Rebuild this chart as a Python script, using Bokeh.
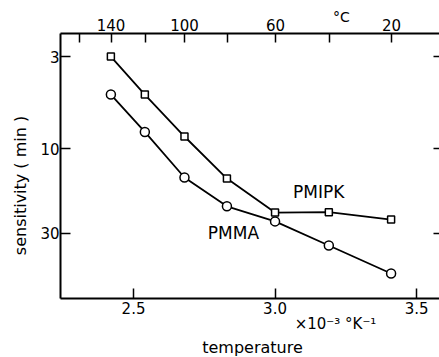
from bokeh.plotting import figure
from bokeh.models import Range1d, LinearAxis, LogAxis, FixedTicker, Label, NumeralTickFormatter
from bokeh.embed import file_html
from bokeh.resources import INLINE

# data: x = 1/T (x10^-3 K^-1), y = sensitivity (min)
pmipk_x = [2.42, 2.54, 2.68, 2.83, 3.00, 3.19, 3.41]
pmipk_y = [3.0, 4.92, 8.50, 14.7, 22.9, 22.8, 25.1]
pmma_x = [2.42, 2.54, 2.68, 2.83, 3.00, 3.19, 3.41]
pmma_y = [4.92, 8.01, 14.5, 21.1, 25.7, 35.2, 50.7]

bottom_ticks = [2.5, 3.0, 3.5]
left_ticks = [3, 10, 30]
top_major_c = [140, 100, 60, 20]
top_minor_c = [160, 120, 80, 40]

FONT = "DejaVu Sans"
H = 357

def inv_t(c):
    return 1000.0 / (c + 273.15)

p = figure(width=439, height=H, output_backend="svg", toolbar_location=None,
           x_range=Range1d(2.242, 3.581), y_range=Range1d(70.2, 2.22),
           y_axis_type="log",
           min_border_left=60, min_border_right=0, min_border_top=33, min_border_bottom=59)
p.xgrid.visible = False
p.ygrid.visible = False
p.outline_line_color = None
p.background_fill_color = "white"
p.border_fill_color = "white"

def style(ax, tick_in):
    ax.axis_line_width = 2
    ax.axis_line_color = "black"
    ax.major_tick_in = tick_in
    ax.major_tick_out = 0
    ax.minor_tick_in = 0
    ax.minor_tick_out = 0
    ax.major_tick_line_width = 1.5
    ax.major_tick_line_color = "black"
    ax.major_label_text_font = FONT
    ax.major_label_text_font_size = "15px"
    ax.major_label_text_color = "black"
    ax.major_label_standoff = 4

xb = p.xaxis[0]
style(xb, 10)
xb.ticker = FixedTicker(ticks=bottom_ticks)
xb.formatter = NumeralTickFormatter(format="0.0")
xb.major_label_standoff = 3

yl = p.yaxis[0]
style(yl, 10)
yl.ticker = FixedTicker(ticks=left_ticks)
yl.formatter = NumeralTickFormatter(format="0")
yl.major_label_standoff = 1

top_major = [inv_t(c) for c in top_major_c]
top_minor = [inv_t(c) for c in top_minor_c]
xt = LinearAxis()
style(xt, 9)
xt.ticker = FixedTicker(ticks=top_major, minor_ticks=top_minor)
xt.minor_tick_in = 9
xt.minor_tick_line_width = 1.5
xt.minor_tick_line_color = "black"
xt.major_label_overrides = {t: str(c) for t, c in zip(top_major, top_major_c)}
xt.major_label_standoff = 3
p.add_layout(xt, "above")

yr = LogAxis()
style(yr, 6)
yr.axis_line_color = None
yr.ticker = FixedTicker(ticks=left_ticks)
yr.major_label_overrides = {t: "" for t in left_ticks}
yr.major_label_standoff = 0
p.add_layout(yr, "right")

# curves
p.line(pmipk_x, pmipk_y, line_color="black", line_width=1.8)
p.line(pmma_x, pmma_y, line_color="black", line_width=1.8)
p.scatter(pmipk_x, pmipk_y, marker="square", size=7, line_color="black",
          line_width=1.5, fill_color="white")
p.scatter(pmma_x, pmma_y, marker="circle", size=9, line_color="black",
          line_width=1.5, fill_color="white")

def lab(x, y, t, size="17px", angle=0.0):
    p.add_layout(Label(x=x, y=y, text=t, text_font=FONT, text_font_size=size,
                       text_align="center", text_baseline="middle",
                       text_color="black", angle=angle))

def clab(px, py, t, side, size="17px", angle=0.0):
    # canvas units (origin top-left); placed in a side panel so it is not clipped to the frame
    p.add_layout(Label(x=px, y=py, x_units="canvas", y_units="canvas",
                       text=t, text_font=FONT, text_font_size=size,
                       text_align="center", text_baseline="middle",
                       text_color="black", angle=angle), side)

lab(3.154, 17.6, "PMIPK")
lab(2.853, 29.7, "PMMA")
clab(252, 347, "temperature", "below", size="16px")
clab(335, 323, "×10⁻³ °K⁻¹", "below", size="15px")
clab(20, 185, "sensitivity ( min )", "left", size="16px", angle=1.5708)
clab(341, 16, "°C", "left", size="14px")

open("out.html", "w").write(file_html(p, INLINE))
